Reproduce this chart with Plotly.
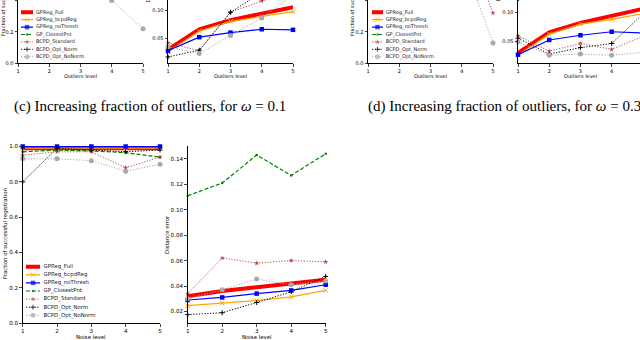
import plotly.graph_objects as go

# ---- data ---------------------------------------------------------------
levels = [1, 2, 3, 4, 5]
series = ["GPReg_Full", "GPReg_bcpdReg", "GPReg_noThresh", "GP_ClosestPnt",
          "BCPD_Standard", "BCPD_Opt_Norm", "BCPD_Opt_NoNorm"]

# (c) outliers, omega = 0.1 - success fraction (most of it is above the crop)
frac_outliers_w01 = {
    "GPReg_Full":      [1.00, 1.00, 1.00, 0.99, 0.98],
    "GPReg_bcpdReg":   [1.00, 1.00, 0.99, 0.99, 0.98],
    "GPReg_noThresh":  [1.00, 1.00, 1.00, 1.00, 1.00],
    "GP_ClosestPnt":   [0.96, 0.93, 0.88, 0.82, 0.74],
    "BCPD_Standard":   [0.97, 0.95, 0.90, 0.78, 0.62],
    "BCPD_Opt_Norm":   [0.98, 0.96, 0.92, 0.85, 0.70],
    "BCPD_Opt_NoNorm": [0.97, 0.90, 0.70, 0.40, 0.22],
}
# (c) outliers, omega = 0.1 - distance error
dist_outliers_w01 = {
    "GPReg_Full":      [0.030, 0.066, 0.082, 0.094, 0.105],
    "GPReg_bcpdReg":   [0.026, 0.063, 0.080, 0.088, 0.097],
    "GPReg_noThresh":  [0.028, 0.052, 0.060, 0.066, 0.065],
    "GP_ClosestPnt":   [0.150, 0.170, 0.190, 0.200, 0.210],
    "BCPD_Standard":   [0.042, 0.028, 0.096, 0.116, 0.130],
    "BCPD_Opt_Norm":   [0.017, 0.029, 0.096, 0.131, 0.150],
    "BCPD_Opt_NoNorm": [0.035, 0.023, 0.055, 0.086, 0.126],
}
# (d) outliers, omega = 0.3 - success fraction
frac_outliers_w03 = {
    "GPReg_Full":      [1.00, 1.00, 0.99, 0.99, 0.98],
    "GPReg_bcpdReg":   [1.00, 0.99, 0.99, 0.98, 0.97],
    "GPReg_noThresh":  [1.00, 1.00, 1.00, 1.00, 1.00],
    "GP_ClosestPnt":   [0.95, 0.90, 0.84, 0.75, 0.65],
    "BCPD_Standard":   [0.96, 0.94, 0.92, 0.84, 0.32],
    "BCPD_Opt_Norm":   [0.97, 0.95, 0.93, 0.88, 0.75],
    "BCPD_Opt_NoNorm": [0.96, 0.93, 0.88, 0.67, 0.13],
}
# (d) outliers, omega = 0.3 - distance error
dist_outliers_w03 = {
    "GPReg_Full":      [0.031, 0.066, 0.082, 0.095, 0.106],
    "GPReg_bcpdReg":   [0.027, 0.063, 0.080, 0.088, 0.098],
    "GPReg_noThresh":  [0.028, 0.053, 0.061, 0.067, 0.065],
    "GP_ClosestPnt":   [0.121, 0.140, 0.150, 0.160, 0.170],
    "BCPD_Standard":   [0.060, 0.034, 0.047, 0.037, 0.059],
    "BCPD_Opt_Norm":   [0.056, 0.029, 0.040, 0.047, 0.097],
    "BCPD_Opt_NoNorm": [0.050, 0.027, 0.029, 0.027, 0.032],
}
# noise level - success fraction
frac_noise = {
    "GPReg_Full":      [0.99, 0.99, 0.99, 0.99, 0.99],
    "GPReg_bcpdReg":   [0.99, 0.99, 0.99, 0.99, 0.99],
    "GPReg_noThresh":  [1.00, 1.00, 1.00, 1.00, 1.00],
    "GP_ClosestPnt":   [0.97, 0.98, 0.975, 0.965, 0.94],
    "BCPD_Standard":   [0.95, 0.97, 0.97, 0.88, 0.94],
    "BCPD_Opt_Norm":   [0.80, 0.99, 0.98, 0.97, 0.98],
    "BCPD_Opt_NoNorm": [0.93, 0.93, 0.92, 0.86, 0.90],
}
# noise level - distance error
dist_noise = {
    "GPReg_Full":      [0.032, 0.036, 0.039, 0.042, 0.045],
    "GPReg_bcpdReg":   [0.0245, 0.0265, 0.0285, 0.0315, 0.0365],
    "GPReg_noThresh":  [0.029, 0.031, 0.034, 0.0365, 0.041],
    "GP_ClosestPnt":   [0.111, 0.121, 0.143, 0.127, 0.144],
    "BCPD_Standard":   [0.034, 0.062, 0.058, 0.060, 0.059],
    "BCPD_Opt_Norm":   [0.0175, 0.019, 0.027, 0.0355, 0.0475],
    "BCPD_Opt_NoNorm": [0.030, 0.037, 0.0455, 0.041, 0.044],
}

# ---- styles ---------------------------------------------------------------
DOT = "1.2px,1.6px"
styles = {
    "GPReg_Full":      dict(color="#ff0000", width=4, dash="solid", symbol=None, size=0),
    "GPReg_bcpdReg":   dict(color="#ffa500", width=1.2, dash="solid", symbol="x-thin", size=4.5),
    "GPReg_noThresh":  dict(color="#0000ff", width=1.2, dash="solid", symbol="square", size=4.5),
    "GP_ClosestPnt":   dict(color="#008000", width=1.2, dash="4px,2px", symbol="circle", size=2.5),
    "BCPD_Standard":   dict(color="rgba(165,40,40,0.8)", width=1.0, dash=DOT, symbol="star", size=4),
    "BCPD_Opt_Norm":   dict(color="#000000", width=1.0, dash=DOT, symbol="cross-thin", size=3.5),
    "BCPD_Opt_NoNorm": dict(color="#a9a9a9", width=1.0, dash=DOT, symbol="circle", size=5),
}

W, H = 640, 340
FONT = "DejaVu Sans"
KEY_TEXT_AT = 1.25  # text column of the hand-made legends, handle spans 0..1


def px(x):
    return x / W


def py(y):
    return 1 - y / H


def marker_for(st, size):
    thin = st["symbol"] in ("x-thin", "cross-thin")
    return dict(symbol=st["symbol"] or "circle", size=size, color=st["color"],
                line=dict(color=st["color"], width=1 if thin else 0))


def add_panel(fig, values, n):
    xa, ya = f"x{n}", f"y{n}"
    for name in series:
        st = styles[name]
        fig.add_trace(go.Scatter(
            x=levels, y=values[name], xaxis=xa, yaxis=ya,
            mode="lines" if st["symbol"] is None else "lines+markers",
            line=dict(color=st["color"], width=st["width"], dash=st["dash"]),
            marker=marker_for(st, st["size"]),
            showlegend=False, cliponaxis=False, name=name,
        ))


def add_key(fig, n, fsize):
    # hand-made legend on its own hidden axes (plotly legends are too tall here)
    xa, ya = f"x{n}", f"y{n}"
    rows = list(range(len(series)))
    for i, name in enumerate(series):
        st = styles[name]
        fig.add_trace(go.Scatter(
            x=[0, 0.5, 1], y=[i, i, i], xaxis=xa, yaxis=ya,
            mode="lines" if st["symbol"] is None else "lines+markers",
            line=dict(color=st["color"], width=st["width"], dash=st["dash"]),
            marker=marker_for(st, [0, st["size"], 0]),
            showlegend=False, cliponaxis=False, hoverinfo="skip",
        ))
    fig.add_trace(go.Scatter(
        x=[KEY_TEXT_AT] * len(series), y=rows, xaxis=xa, yaxis=ya, mode="text",
        text=series, textposition="middle right",
        textfont=dict(family=FONT, size=fsize, color="#222"),
        showlegend=False, cliponaxis=False, hoverinfo="skip",
    ))


fig = go.Figure()

panels = [
    (frac_outliers_w01, 1), (dist_outliers_w01, 2),
    (frac_outliers_w03, 3), (dist_outliers_w03, 4),
    (frac_noise, 5), (dist_noise, 6),
]
for vals, n in panels:
    add_panel(fig, vals, n)
add_key(fig, 7, 5)
add_key(fig, 8, 5)
add_key(fig, 9, 5.4)


def xaxis(dom, rng, anchor, fsize):
    return dict(domain=[px(dom[0]), px(dom[1])], range=rng, anchor=anchor,
                tickvals=levels, ticks="outside", ticklen=2.5, tickwidth=0.8,
                showline=True, linecolor="black", linewidth=1, showgrid=False,
                zeroline=False, tickfont=dict(family=FONT, size=fsize, color="black"),
                automargin=False, fixedrange=True)


def yaxis(dom, rng, anchor, dtick, fmt, fsize):
    return dict(domain=[py(dom[1]), py(dom[0])], range=rng, anchor=anchor,
                dtick=dtick, tickformat=fmt, ticks="outside", ticklen=2.5, tickwidth=0.8,
                showline=True, linecolor="black", linewidth=1, showgrid=False,
                zeroline=False, tickfont=dict(family=FONT, size=fsize, color="black"),
                automargin=False, fixedrange=True)


def key_axes(x0, handle_w, dom_y, anchor):
    x1 = x0 + handle_w * KEY_TEXT_AT
    return (dict(domain=[px(x0), px(x1)], range=[0, KEY_TEXT_AT], visible=False,
                 anchor=anchor, fixedrange=True),
            dict(domain=[py(dom_y[1]), py(dom_y[0])], range=[6.5, -0.5], visible=False,
                 anchor=anchor.replace("y", "x"), fixedrange=True))


TOP = (0, 63.3)
BOT = (145.5, 323)
layout = dict(
    xaxis=xaxis((18, 143), [1, 5], "y", 5),
    yaxis=yaxis(TOP, [0, 0.403], "x", 0.2, ".1f", 5),
    xaxis2=xaxis((168, 293), [1, 5], "y2", 5),
    yaxis2=yaxis(TOP, [0.0058, 0.1177], "x2", 0.05, ".2f", 5),
    xaxis3=xaxis((368, 493), [1, 5], "y3", 5),
    yaxis3=yaxis(TOP, [0, 0.403], "x3", 0.2, ".1f", 5),
    xaxis4=xaxis((518, 640), [1, 4.907], "y4", 5),
    yaxis4=yaxis(TOP, [0.0133, 0.121], "x4", 0.05, ".2f", 5),
    xaxis5=xaxis((22.7, 160), [1, 5], "y5", 5.6),
    yaxis5=yaxis(BOT, [0, 1.0057], "x5", 0.2, ".1f", 5.6),
    xaxis6=xaxis((187.7, 325.7), [1, 5], "y6", 5.6),
    yaxis6=yaxis(BOT, [0.0109, 0.1505], "x6", 0.02, ".2f", 5.6),
)
key_rows_top = (12.3 - 3.7, 12.3 + 6.5 * 7.4)
key_rows_bot = (266.7 - 4.05, 266.7 + 6.5 * 8.1)
layout["xaxis7"], layout["yaxis7"] = key_axes(21, 12, key_rows_top, "y7")
layout["xaxis8"], layout["yaxis8"] = key_axes(372, 11, key_rows_top, "y8")
layout["xaxis9"], layout["yaxis9"] = key_axes(26, 14, key_rows_bot, "y9")


def label(text, x, y, size, angle=0, yanchor="middle"):
    return dict(text=text, x=px(x), y=py(y), xref="paper", yref="paper",
                showarrow=False, textangle=angle, xanchor="center", yanchor=yanchor,
                font=dict(family=FONT, size=size, color="black"))


annotations = [
    label("Outliers level", 80.5, 76, 5),
    label("Outliers level", 230.5, 76, 5),
    label("Outliers level", 430.5, 76, 5),
    label("Outliers level", 580.5, 76, 5),
    label("Noise level", 91.3, 336.5, 5.4),
    label("Noise level", 256.7, 336.5, 5.4),
    label("Fraction of successful registration", 3, 38, 5, -90, "bottom"),
    label("Fraction of successful registration", 352, 38, 5, -90, "bottom"),
    label("Distance error", 148, 5, 5, -90, "bottom"),
    label("Distance error", 498, 4, 5, -90, "bottom"),
    label("Fraction of successful registration", 5, 234, 5.4, -90),
    label("Distance error", 167, 235, 5.4, -90),
]
for txt, left in [("(c) Increasing fraction of outliers, for <i>ω</i> = 0.1", 12),
                  ("(d) Increasing fraction of outliers, for <i>ω</i> = 0.3", 366)]:
    annotations.append(dict(text=txt, x=px(left), y=py(106), xref="paper", yref="paper",
                            showarrow=False, xanchor="left", yanchor="middle",
                            font=dict(family="Liberation Serif", size=15, color="black")))

fig.update_layout(
    **layout,
    annotations=annotations,
    width=W, height=H,
    margin=dict(l=0, r=0, t=0, b=0),
    template="none",
    paper_bgcolor="white", plot_bgcolor="white",
    showlegend=False,
)

# the page's default body margin would shift the whole figure by 8px
fig.write_html("out.html", config={"displayModeBar": False},
               post_script="document.body.style.margin = '0';")
